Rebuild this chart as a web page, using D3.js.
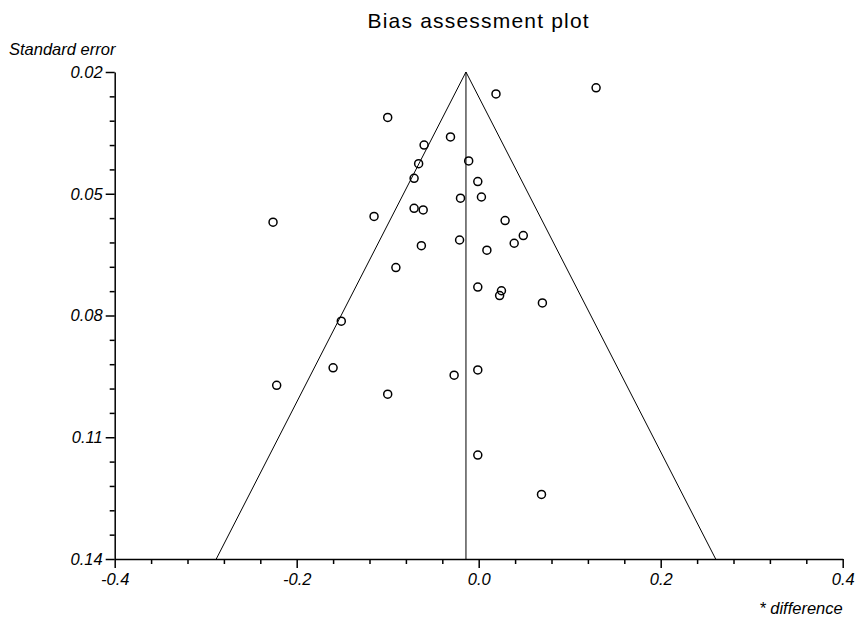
<!DOCTYPE html>
<html>
<head>
<meta charset="utf-8">
<script src="https://cdn.jsdelivr.net/npm/d3@7"></script>
<style>
    body { margin: 0; background: #fff; }
    svg text { font-family: "Liberation Sans", Arial, sans-serif; fill: #000; }
</style>
</head>
<body>
<div id="chart"></div>
<script>
// study estimates (difference) and their standard errors
var differences = [0.129, 0.019, -0.100, -0.031, -0.060, -0.011, -0.066, -0.071, -0.001, 0.003,
    -0.020, -0.071, -0.061, -0.115, 0.029, -0.226, 0.049, -0.021, 0.039, -0.063,
    0.009, -0.091, -0.001, 0.025, 0.023, 0.070, -0.151, -0.160, -0.001, -0.027,
    -0.222, -0.100, -0.001, 0.069];
var stdErrors = [0.0239, 0.0254, 0.0312, 0.0360, 0.0380, 0.0419, 0.0426, 0.0462, 0.0470, 0.0508,
    0.0511, 0.0536, 0.0540, 0.0556, 0.0566, 0.0570, 0.0603, 0.0614, 0.0622, 0.0628,
    0.0639, 0.0682, 0.0730, 0.0739, 0.0751, 0.0769, 0.0814, 0.0929, 0.0934, 0.0947,
    0.0972, 0.0994, 0.1144, 0.1241];

var pooled = -0.014;
var zValue = 1.96;

var xMajor = [-0.4, -0.2, 0.0, 0.2, 0.4];
var xMinor = [-0.36, -0.32, -0.28, -0.24, -0.16, -0.12, -0.08, -0.04,
    0.04, 0.08, 0.12, 0.16, 0.24, 0.28, 0.32, 0.36];
var yMajor = [0.02, 0.05, 0.08, 0.11, 0.14];
var yMinor = [0.026, 0.032, 0.038, 0.044, 0.056, 0.062, 0.068, 0.074,
    0.086, 0.092, 0.098, 0.104, 0.116, 0.122, 0.128, 0.134];

var width = 860, height = 621;
var margin = { top: 72, right: 17.3, bottom: 62, left: 114.7 };

var svg = d3.select('#chart')
    .append('svg')
    .attr('width', width)
    .attr('height', height);

var x = d3.scaleLinear()
    .domain([-0.4, 0.4])
    .range([margin.left, width - margin.right]);

var y = d3.scaleLinear()
    .domain([0.02, 0.14])
    .range([margin.top, height - margin.bottom]);

// funnel
var seMin = y.domain()[0], seMax = y.domain()[1];
var funnel = [
    [pooled - zValue * seMax, seMax],
    [pooled, seMin],
    [pooled + zValue * seMax, seMax]
];
svg.append('path')
    .attr('d', d3.line().x(d => x(d[0])).y(d => y(d[1]))(funnel))
    .attr('fill', 'none')
    .attr('stroke', '#000')
    .attr('stroke-width', 1);

svg.append('line')
    .attr('x1', x(pooled)).attr('x2', x(pooled))
    .attr('y1', y(seMin)).attr('y2', y(seMax))
    .attr('stroke', '#000')
    .attr('stroke-width', 1);

// axes
function styleAxis(g) {
    g.selectAll('path, line').attr('stroke', '#000').attr('stroke-width', 1.5);
    g.selectAll('text')
        .style('font-size', '16.5px')
        .style('font-style', 'italic')
        .attr('fill', '#000');
}

var xAxisY = height - margin.bottom;

svg.append('g')
    .attr('transform', 'translate(0,' + xAxisY + ')')
    .call(d3.axisBottom(x).tickValues(xMinor).tickSize(5).tickFormat(''))
    .call(g => g.select('.domain').remove())
    .call(styleAxis);

svg.append('g')
    .attr('transform', 'translate(0,' + xAxisY + ')')
    .call(d3.axisBottom(x).tickValues(xMajor).tickSize(9).tickSizeOuter(0)
        .tickPadding(5).tickFormat(d => d.toFixed(1)))
    .call(styleAxis);

svg.append('g')
    .attr('transform', 'translate(' + margin.left + ',0)')
    .call(d3.axisLeft(y).tickValues(yMinor).tickSize(5).tickFormat(''))
    .call(g => g.select('.domain').remove())
    .call(styleAxis);

svg.append('g')
    .attr('transform', 'translate(' + margin.left + ',0)')
    .call(d3.axisLeft(y).tickValues(yMajor).tickSize(9).tickSizeOuter(0)
        .tickPadding(3).tickFormat(d => d.toFixed(2)))
    .call(styleAxis);

// points
svg.append('g')
    .selectAll('circle')
    .data(differences)
    .enter()
    .append('circle')
    .attr('cx', d => x(d))
    .attr('cy', (d, i) => y(stdErrors[i]))
    .attr('r', 4)
    .attr('fill', 'none')
    .attr('stroke', '#000')
    .attr('stroke-width', 1.5);

// titles
svg.append('text')
    .attr('x', x(0))
    .attr('y', 28)
    .attr('text-anchor', 'middle')
    .style('font-size', '21px')
    .style('letter-spacing', '1.2px')
    .text('Bias assessment plot');

svg.append('text')
    .attr('x', 9)
    .attr('y', 55)
    .style('font-size', '16.5px')
    .style('font-style', 'italic')
    .text('Standard error');

svg.append('text')
    .attr('x', width - margin.right)
    .attr('y', 614)
    .attr('text-anchor', 'end')
    .style('font-size', '16.5px')
    .style('font-style', 'italic')
    .text('* difference');
</script>
</body>
</html>
